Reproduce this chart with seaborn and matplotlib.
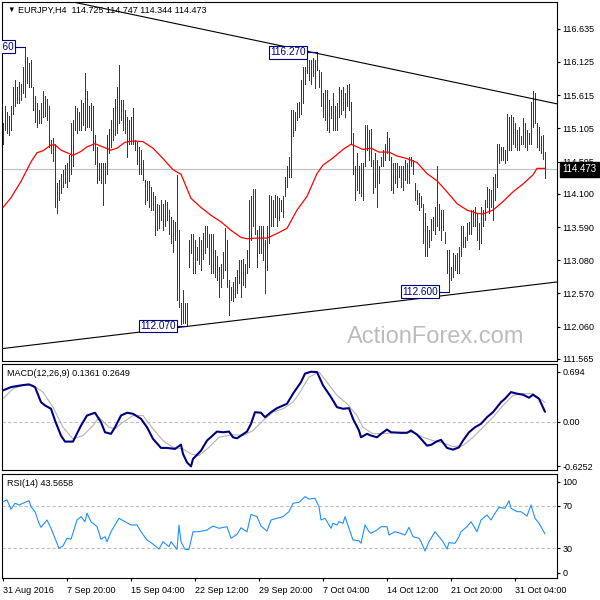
import numpy as np
import pandas as pd
import matplotlib
matplotlib.use("Agg")
import matplotlib.pyplot as plt
import matplotlib.transforms as mtransforms
import seaborn as sns

# ---------------- data ----------------
symbol = "EURJPY,H4"
last_ohlc = [114.725, 114.747, 114.344, 114.473]

high = [
    115.18, 115.44, 115.36, 115.30, 115.44, 115.74, 115.85, 115.74, 115.82, 115.79,
    116.05, 116.36, 116.20, 116.10, 116.15, 115.74, 115.60, 115.49, 115.39, 115.49,
    115.67, 115.60, 115.56, 115.44, 114.93, 114.95, 114.87, 114.26, 114.31, 114.41,
    114.47, 114.54, 114.57, 114.70, 115.18, 115.23, 115.44, 115.41, 115.36, 115.54,
    115.50, 115.95, 115.67, 115.44, 115.49, 115.44, 115.00, 114.82, 114.57, 114.57,
    114.57, 114.57, 115.00, 115.10, 115.23, 115.41, 115.55, 115.74, 116.08, 115.54,
    115.54, 115.39, 115.28, 115.23, 115.28, 115.41, 114.93, 114.90, 114.82, 114.77,
    114.62, 114.31, 114.29, 114.29, 114.20, 114.13, 114.06, 113.95, 113.93, 114.00,
    113.95, 114.00, 113.98, 113.85, 113.75, 113.70, 113.67, 114.39, 113.54, 112.42,
    112.62, 112.42, 112.42, 113.39, 113.49, 113.49, 113.39, 113.29, 113.44, 113.39,
    113.50, 113.60, 113.60, 113.49, 113.49, 113.49, 113.24, 113.14, 112.98, 113.03,
    113.20, 113.57, 113.39, 112.78, 112.67, 112.75, 112.83, 112.93, 113.08, 113.08,
    113.10, 113.03, 113.24, 114.00, 114.06, 114.18, 114.18, 113.54, 113.60, 113.60,
    113.60, 113.39, 113.60, 114.08, 114.06, 114.00, 114.08, 114.06,
    114.03, 114.00, 114.06, 114.36, 114.52, 114.67, 115.39, 115.39, 115.36, 115.49,
    115.51, 115.85, 116.05, 116.05, 116.25, 116.15, 116.15, 116.18, 116.15, 116.27,
    116.00, 115.97, 115.64, 115.69, 115.69, 115.54, 115.44, 115.64, 115.44, 115.49,
    115.74, 115.69, 115.74, 115.64, 115.77, 115.79, 115.51, 115.03, 114.52, 114.72,
    114.52, 114.57, 114.57, 115.16, 115.16, 115.08, 115.10, 114.62, 114.72, 114.62,
    114.52, 114.67, 114.77, 114.87, 115.05, 114.95, 114.67, 114.57, 114.57, 114.57,
    114.52, 114.52, 114.52, 114.62, 114.57, 114.67, 114.67, 114.62, 114.26, 114.16,
    114.11, 114.06, 113.95, 113.80, 113.60, 113.54, 113.72, 113.75, 113.90, 114.52,
    113.95, 113.85, 113.85, 113.52, 113.24, 113.24, 112.98, 113.19, 113.16, 113.19,
    113.29, 113.60, 113.60, 113.44, 113.65, 113.67, 113.85, 113.85, 113.90, 113.80,
    113.65, 113.90, 113.85, 114.00, 114.21, 114.18, 114.16, 114.36, 114.41, 114.87,
    114.87, 114.82, 114.82, 114.77, 115.33, 115.28, 115.31, 115.28, 115.18, 115.08,
    115.13, 114.98, 115.26, 115.18, 115.08, 115.03, 115.51, 115.67, 115.64, 115.18,
    115.13, 114.98, 115.00, 114.747,
]
low = [
    114.87, 115.08, 115.03, 115.00, 115.08, 115.33, 115.44, 115.49, 115.50, 115.54,
    115.64, 115.59, 115.80, 115.74, 115.74, 115.39, 115.20, 115.13, 115.18, 115.18,
    115.28, 115.30, 115.23, 114.82, 114.72, 114.60, 113.90, 113.80, 114.00, 114.11,
    114.21, 114.26, 114.21, 114.30, 114.41, 114.52, 115.08, 115.03, 115.08, 115.08,
    115.15, 115.08, 115.13, 115.13, 115.08, 114.77, 114.55, 114.26, 114.31, 114.26,
    113.93, 114.26, 114.41, 114.72, 114.82, 114.93, 115.00, 115.03, 115.18, 115.23,
    115.08, 115.03, 114.67, 114.87, 114.87, 114.87, 114.77, 114.55, 114.41, 114.41,
    114.31, 113.95, 114.00, 113.90, 113.85, 113.85, 113.47, 113.54, 113.57, 113.70,
    113.54, 113.60, 113.70, 113.49, 113.35, 113.21, 113.39, 112.47, 112.37, 112.10,
    112.11, 112.11, 112.07, 112.98, 113.19, 112.88, 112.88, 113.08, 113.03, 112.93,
    113.10, 113.19, 113.29, 113.03, 112.88, 112.88, 112.83, 112.78, 112.52, 112.67,
    112.80, 112.93, 112.67, 112.24, 112.47, 112.45, 112.52, 112.57, 112.73, 112.52,
    112.70, 112.67, 112.88, 112.98, 113.39, 113.60, 113.49, 112.98, 113.19, 113.19,
    113.08, 112.57, 112.93, 113.34, 113.60, 113.60, 113.75, 113.60,
    113.70, 113.83, 113.75, 114.06, 114.21, 114.36, 114.36, 114.98, 115.08, 115.23,
    115.28, 115.33, 115.49, 115.79, 115.95, 115.85, 115.79, 115.90, 115.72, 116.00,
    115.74, 115.44, 115.28, 115.23, 115.08, 115.05, 115.26, 115.08, 115.08, 115.08,
    115.28, 115.33, 115.39, 115.28, 115.44, 115.39, 114.87, 114.41, 114.00, 114.16,
    114.11, 114.06, 114.00, 114.52, 114.77, 114.62, 114.52, 114.11, 114.21, 113.90,
    114.26, 114.52, 114.52, 114.62, 114.72, 114.62, 114.16, 114.11, 114.26, 114.21,
    114.36, 114.21, 114.16, 114.31, 114.26, 114.26, 114.52, 114.41, 114.00, 113.95,
    113.85, 113.90, 113.34, 113.14, 113.14, 113.29, 113.39, 113.54, 113.49, 113.60,
    113.54, 113.39, 113.54, 113.34, 112.88, 112.60, 112.78, 112.83, 112.93, 112.88,
    112.88, 113.14, 113.29, 113.29, 113.39, 113.49, 113.49, 113.60, 113.60, 113.39,
    113.26, 113.34, 113.60, 113.70, 113.90, 113.80, 113.90, 113.70, 114.00, 114.21,
    114.57, 114.62, 114.62, 114.57, 114.62, 114.77, 114.77, 114.87, 114.82, 114.77,
    114.77, 114.87, 114.87, 114.82, 114.77, 114.87, 114.87, 115.13, 115.18, 114.82,
    114.77, 114.72, 114.64, 114.344,
]

ma_idx = [0, 4, 9, 14, 17, 20, 24, 26, 29, 32, 35, 39, 42, 46, 49, 54, 57, 61, 65, 70,
          75, 80, 85, 89, 94, 99, 104, 109, 114, 119, 122, 127, 132, 137, 142, 147, 152, 157, 160, 165,
          170, 174, 177, 180, 184, 188, 193, 197, 202, 207, 212, 217, 222, 227, 232, 237, 240, 245, 250, 255,
          260, 265, 267, 271]
ma_val = [113.89, 114.04, 114.29, 114.59, 114.73, 114.76, 114.85, 114.85, 114.77, 114.73,
          114.69, 114.75, 114.82, 114.87, 114.83, 114.77, 114.80, 114.89, 114.91, 114.90,
          114.80, 114.64, 114.47, 114.40, 114.03, 113.89, 113.77, 113.67, 113.54, 113.43,
          113.41, 113.42, 113.42, 113.49, 113.57, 113.85, 114.06, 114.41, 114.54, 114.65,
          114.78, 114.86, 114.82, 114.78, 114.80, 114.74, 114.74, 114.68, 114.64, 114.58,
          114.41, 114.30, 114.13, 113.95, 113.85, 113.80, 113.79, 113.85, 113.98, 114.13,
          114.25, 114.39, 114.49, 114.49]

macd_idx = [0, 4, 9, 13, 16, 19, 21, 24, 26, 29, 31, 35, 39, 42, 46, 49, 51, 54, 56, 59,
            62, 65, 69, 72, 75, 79, 82, 86, 89, 90, 92, 94, 95, 99, 102, 107, 110, 113, 115, 117,
            122, 124, 126, 129, 131, 134, 137, 142, 145, 149, 151, 154, 157, 160, 164, 167, 170, 173, 175, 178,
            179, 182, 184, 187, 189, 192, 194, 199, 202, 204, 207, 209, 212, 214, 217, 219, 222, 225, 228, 230,
            233, 236, 239, 242, 245, 249, 251, 254, 257, 260, 263, 265, 268, 271]
macd_val = [0.434, 0.480, 0.504, 0.518, 0.480, 0.270, 0.224, 0.178, 0.014, -0.196,
            -0.280, -0.280, -0.056, 0.084, 0.122, -0.010, -0.150, -0.172, -0.080, 0.084,
            0.122, 0.108, 0.038, -0.080, -0.242, -0.368, -0.368, -0.382, -0.322, -0.452,
            -0.570, -0.6252, -0.522, -0.406, -0.266, -0.140, -0.150, -0.140, -0.220, -0.234,
            -0.140, -0.032, 0.130, 0.122, 0.060, 0.130, 0.186, 0.248, 0.388, 0.550,
            0.668, 0.694, 0.690, 0.504, 0.340, 0.200, 0.178, 0.186, 0.038, -0.126,
            -0.220, -0.172, -0.196, -0.220, -0.172, -0.112, -0.150, -0.158, -0.158, -0.126,
            -0.182, -0.242, -0.336, -0.326, -0.276, -0.256, -0.368, -0.392, -0.360, -0.266,
            -0.150, -0.080, -0.032, 0.060, 0.130, 0.270, 0.318, 0.410, 0.388, 0.374,
            0.332, 0.374, 0.318, 0.1361]

sig_idx = [0, 5, 10, 15, 20, 25, 30, 35, 40, 45, 48, 53, 56, 60, 65, 70, 75, 80, 85, 90,
           94, 98, 103, 108, 115, 120, 125, 130, 135, 140, 145, 148, 153, 158, 162, 167, 172, 177, 180, 185,
           192, 198, 205, 210, 215, 220, 225, 230, 235, 240, 245, 250, 255, 260, 265, 271]
sig_val = [0.318, 0.458, 0.504, 0.504, 0.410, 0.200, -0.080, -0.242, -0.196, -0.056,
           0.060, -0.080, -0.102, -0.010, 0.084, 0.084, -0.102, -0.266, -0.360, -0.382,
           -0.452, -0.476, -0.360, -0.220, -0.182, -0.196, -0.126, 0.014, 0.130, 0.178,
           0.270, 0.388, 0.620, 0.690, 0.550, 0.364, 0.248, 0.084, -0.080, -0.172,
           -0.164, -0.150, -0.150, -0.220, -0.266, -0.298, -0.350, -0.336, -0.220, -0.080,
           0.060, 0.224, 0.364, 0.388, 0.388, 0.2649]

rsi_idx = [0, 2, 4, 6, 8, 11, 13, 14, 16, 18, 19, 22, 24, 26, 28, 30, 32, 34, 37, 39,
           41, 42, 44, 47, 49, 51, 52, 54, 56, 58, 61, 64, 67, 69, 72, 75, 78, 80, 83, 84,
           87, 88, 89, 91, 93, 95, 98, 102, 105, 108, 112, 114, 117, 119, 122, 124, 127, 129, 132, 134,
           137, 140, 143, 145, 148, 151, 153, 156, 158, 159, 161, 164, 165, 167, 168, 170, 171, 173, 175, 178,
           179, 181, 183, 184, 187, 189, 192, 193, 196, 198, 201, 203, 205, 208, 209, 211, 213, 214, 216, 218,
           220, 222, 223, 226, 228, 229, 232, 234, 235, 237, 239, 242, 244, 246, 248, 251, 253, 254, 257, 259,
           262, 264, 266, 268, 271]
rsi_val = [73.8, 75.4, 66.6, 72.3, 70.7, 73.2, 74.7, 69.1, 64.4, 53.5, 49.7, 56.6, 48.8, 39.4, 30.0,
           32.2, 39.4, 38.5, 56.6, 59.7, 55.0, 62.9, 55.0, 50.3, 38.5, 40.9, 36.2, 45.6, 51.9, 58.2,
           55.0, 51.9, 51.9, 45.6, 37.8, 34.0, 29.3, 36.2, 31.5, 36.2, 29.0, 51.9, 36.2, 29.0, 29.0,
           45.6, 45.6, 47.2, 50.9, 48.8, 50.3, 39.4, 43.1, 49.3, 45.6, 61.9, 59.7, 50.9, 46.2, 56.6,
           58.2, 59.7, 64.4, 72.3, 73.2, 78.5, 76.3, 76.9, 69.1, 56.6, 58.2, 48.8, 53.5, 51.9, 55.0,
           53.5, 59.7, 48.8, 37.8, 37.1, 34.7, 51.9, 45.6, 44.1, 47.2, 50.3, 50.3, 42.5, 45.6, 44.6,
           42.5, 49.7, 40.9, 39.4, 36.2, 27.5, 36.2, 39.4, 45.6, 40.9, 36.2, 29.3, 35.3, 34.7, 40.9,
           45.6, 50.3, 55.0, 51.9, 45.6, 56.6, 61.3, 56.6, 62.9, 68.5, 67.6, 74.7, 67.6, 64.4, 64.4,
           60.3, 70.7, 58.2, 53.5, 43.5658]

time_tick_idx = [0, 32, 64, 96, 128, 160, 192, 224, 256]
time_tick_labels = ["31 Aug 2016", "7 Sep 20:00", "15 Sep 04:00", "22 Sep 12:00", "29 Sep 20:00",
                    "7 Oct 04:00", "14 Oct 12:00", "21 Oct 20:00", "31 Oct 04:00"]
price_ticks = [116.635, 116.125, 115.615, 115.105, 114.595, 114.100, 113.590,
               113.080, 112.570, 112.060, 111.565]
macd_ticks = [0.694, 0.0, -0.6252]
macd_tick_labels = ["0.694", "0.00", "-0.6252"]
rsi_levels = [70, 30]
rsi_tick_pos = [92.5, 70, 30, 7]
rsi_tick_labels = ["100", "70", "30", "0"]
swing_highs = [116.360, 116.270]
swing_lows = [112.070, 112.600]
upper_trend = [(148.5, 116.31), (277.0, 115.48)]
lower_trend = [(-1.5, 111.72), (277.0, 112.747)]

# ---------------- style ----------------
sns.set_style("white")
plt.rcParams["font.family"] = ["Liberation Sans", "DejaVu Sans"]
BAR = "#124466"
NAVY = "#000080"
GRAY = "#c0c0c0"
FS = 6.5

fig = plt.figure(figsize=(6, 6), dpi=100)
W, H = 600.0, 600.0


def rect(l, t, r, b):
    return [l / W, 1 - b / H, (r - l) / W, (b - t) / H]


ax = fig.add_axes(rect(2, 2, 557, 361))
axm = fig.add_axes(rect(2, 364, 557, 470))
axr = fig.add_axes(rect(2, 474, 557, 578))

n = len(high)
idx = np.arange(n)
close = last_ohlc[3]

# ---- main price panel ----
ax.axhline(close, color=GRAY, lw=0.8, zorder=1)
ax.vlines(idx, low, high, color=BAR, lw=0.6, antialiased=False, zorder=3)
df_ma = pd.DataFrame({"bar": ma_idx, "ma": ma_val})
sns.lineplot(data=df_ma, x="bar", y="ma", ax=ax, color="red", lw=0.9,
             estimator=None, sort=False, zorder=4)
ax.axline(upper_trend[0], upper_trend[1], color="black", lw=0.8, zorder=5)
ax.axline(lower_trend[0], lower_trend[1], color="black", lw=0.8, zorder=5)

hi_arr = np.array(high)
lo_arr = np.array(low)
for v in swing_highs + swing_lows:
    if v in swing_highs:
        i = int(np.flatnonzero(np.isclose(hi_arr, v))[0])
    else:
        i = int(np.flatnonzero(np.isclose(lo_arr, v))[0])
    ax.plot([i - 5.5, i], [v, v], color=NAVY, lw=0.8, zorder=6)
    ax.text(i - 5.7, v, f"{v:.3f}", ha="right", va="center", color=NAVY,
            fontsize=7.2, zorder=7, clip_on=True,
            bbox=dict(boxstyle="square,pad=0.12", fc="white", ec=NAVY, lw=0.8))

ax.set_ylim(111.534, 117.043)
ax.set_yticks(price_ticks)
ax.set_yticklabels([f"{t:.3f}" for t in price_ticks])

trans = mtransforms.blended_transform_factory(ax.transAxes, ax.transData)
ax.text(1.009, close, f"{close:.3f}", transform=trans, ha="left", va="center",
        color="white", fontsize=7, zorder=10,
        bbox=dict(boxstyle="square,pad=0.25", fc="black", ec="black"))

# ---- MACD panel ----
axm.axhline(0, color=GRAY, lw=0.8, ls=(0, (3, 2)), zorder=1)
df_sig = pd.DataFrame({"bar": sig_idx, "v": sig_val})
df_macd = pd.DataFrame({"bar": macd_idx, "v": macd_val})
sns.lineplot(data=df_sig, x="bar", y="v", ax=axm, color="#b4b4b4", lw=0.8,
             estimator=None, sort=False, zorder=2)
sns.lineplot(data=df_macd, x="bar", y="v", ax=axm, color=NAVY, lw=1.5,
             estimator=None, sort=False, zorder=3)
axm.set_ylim(-0.676, 0.802)
axm.set_yticks(macd_ticks)
axm.set_yticklabels(macd_tick_labels)

# ---- RSI panel ----
for lv in rsi_levels:
    axr.axhline(lv, color=GRAY, lw=0.8, ls=(0, (3, 2)), zorder=1)
df_rsi = pd.DataFrame({"bar": rsi_idx, "v": rsi_val})
sns.lineplot(data=df_rsi, x="bar", y="v", ax=axr, color="#1E90FF", lw=0.8,
             estimator=None, sort=False, zorder=3)
axr.set_ylim(2.1, 99.8)
axr.set_yticks(rsi_tick_pos)
axr.set_yticklabels(rsi_tick_labels)

# ---- common axis styling ----
for a in (ax, axm, axr):
    a.set_xlim(-0.5, 277)
    a.set_xlabel("")
    a.set_ylabel("")
    a.yaxis.tick_right()
    a.tick_params(axis="y", which="both", direction="out", length=2.5, width=0.8,
                  pad=1.5, labelsize=FS, right=True, left=False, colors="black")
    for s in a.spines.values():
        s.set_linewidth(0.8)
        s.set_color("black")
    a.set_facecolor("white")

for a in (ax, axm):
    a.tick_params(axis="x", bottom=False, labelbottom=False)
    a.set_xticks([])

axr.set_xticks(time_tick_idx)
axr.set_xticklabels(time_tick_labels, ha="left")
axr.tick_params(axis="x", bottom=True, direction="out", length=2.5, width=0.8,
                pad=3, labelsize=FS, colors="black")

# ---- titles / watermark ----
fig.text(7 / W, 1 - 10 / H, "\u25BC", fontsize=5.5, ha="left", va="center", color="black")
fig.text(18 / W, 1 - 10 / H,
         f"{symbol}  {last_ohlc[0]:.3f} {last_ohlc[1]:.3f} {last_ohlc[2]:.3f} {last_ohlc[3]:.3f}",
         fontsize=FS, ha="left", va="center", color="black")
fig.text(7 / W, 1 - 373 / H, f"MACD(12,26,9) {macd_val[-1]:.4f} {sig_val[-1]:.4f}",
         fontsize=FS, ha="left", va="center", color="black")
fig.text(7 / W, 1 - 484 / H, f"RSI(14) {rsi_val[-1]:.4f}",
         fontsize=FS, ha="left", va="center", color="black")
fig.text(436 / W, 1 - 337 / H, "ActionForex.com", fontsize=17, ha="center", va="center",
         color="#bdbdbd", family="Liberation Sans")

fig.savefig("out.png", dpi=100, facecolor="white")
